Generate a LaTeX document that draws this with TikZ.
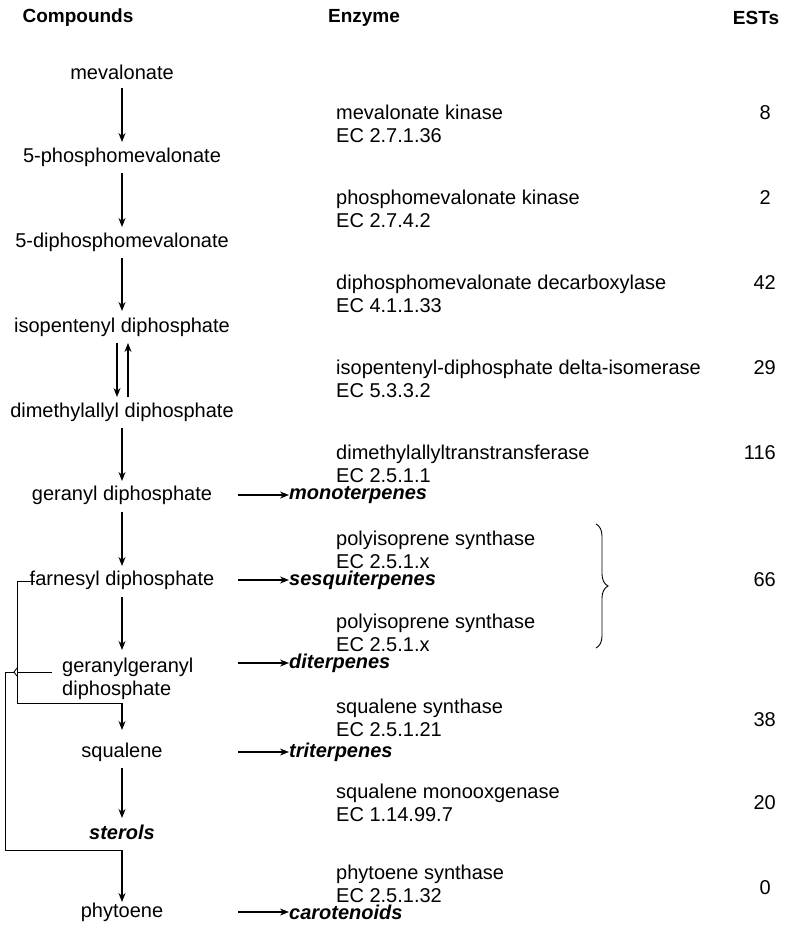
\documentclass[tikz,border=0pt]{standalone}
\usepackage{fontspec}
\setmainfont{Liberation Sans}
\usetikzlibrary{decorations.pathreplacing,arrows.meta}
\begin{document}
\begin{tikzpicture}[x=1pt,y=-1pt,
  txt/.style={inner sep=0pt,font=\fontsize{20}{23}\selectfont},
  hd/.style={txt,font=\fontsize{19}{23}\selectfont\bfseries},
  prod/.style={txt,anchor=west,font=\fontsize{20}{23}\selectfont\bfseries\itshape},
  enz/.style={txt,anchor=west,align=left,font=\fontsize{20}{23}\selectfont},
  est/.style={txt,anchor=east},
  arr/.style={-{Stealth[length=9pt,width=7pt]},line width=1.3pt},
  ln/.style={line width=0.9pt}]
\useasboundingbox (0,0) rectangle (785,932);
\node[hd] (h1) at (78,18) {Compounds};
\node[hd] (h2) at (364,18) {Enzyme};
\node[hd] (h3) at (756,18) {ESTs};
% compounds
\node[txt] (c1) at (122,72) {mevalonate};
\node[txt] (c2) at (122,157) {5-phosphomevalonate};
\node[txt] (c3) at (122,242) {5-diphosphomevalonate};
\node[txt] (c4) at (122,327) {isopentenyl diphosphate};
\node[txt] (c5) at (122,412) {dimethylallyl diphosphate};
\node[txt] (c6) at (122,495) {geranyl diphosphate};
\node[txt] (c7) at (122,580) {farnesyl diphosphate};
\node[txt,align=left,anchor=west] (c8) at (62,679) {geranylgeranyl\\diphosphate};
\node[txt] (c9) at (122,752) {squalene};
\node[prod,anchor=center] (c10) at (122,832) {sterols};
\node[txt] (c11) at (122,912) {phytoene};
% vertical arrows
\coordinate (a1) at (122,88); \coordinate (b1) at (122,142);
\coordinate (a2) at (122,173); \coordinate (b2) at (122,227);
\coordinate (a3) at (122,258); \coordinate (b3) at (122,311);
\coordinate (a5) at (122,428); \coordinate (b5) at (122,481);
\coordinate (a6) at (122,512); \coordinate (b6) at (122,566);
\coordinate (a7) at (122,597); \coordinate (b7) at (122,650);
\coordinate (a9) at (122,768); \coordinate (b9) at (122,818);
\foreach \i in {1,2,3,5,6,7,9} \draw[arr] (a\i) -- (b\i);
\draw[arr] (117,343) -- (117,397);
\draw[arr] (128,397) -- (128,343);
% bracket connectors
\coordinate (p1) at (35,581); \coordinate (p2) at (17,581);
\coordinate (p3) at (17,703); \coordinate (p4) at (122,703);
\coordinate (p5) at (122,730);
\draw[ln] (p1) -- (p2) -- (p3) -- (p4);
\draw[arr] (p4) -- (p5);
\coordinate (g1) at (52,672); \coordinate (g2) at (14,672);
\draw[ln] (g1) -- (17,672);
\draw[ln] (17,668) -- (14,672) -- (17,676);
\coordinate (q1) at (5,672); \coordinate (q2) at (5,850); \coordinate (q3) at (122,850);
\coordinate (q4) at (122,902);
\draw[ln] (g2) -- (q1) -- (q2) -- (q3);
\draw[arr] (q3) -- (q4);
% products
\foreach \y/\t/\n in {495/monoterpenes/m1,580/sesquiterpenes/m2,663/diterpenes/m3,752/triterpenes/m4,912/carotenoids/m5}{
  \node[prod] (\n) at (289,\y) {\t};
  \draw[arr] (238,\y) -- (\n.west);
}
% enzymes
\node[enz] (e1) at (336,124) {mevalonate kinase\\EC 2.7.1.36};
\node[enz] (e2) at (336,209) {phosphomevalonate kinase\\EC 2.7.4.2};
\node[enz] (e3) at (336,294) {diphosphomevalonate decarboxylase\\EC 4.1.1.33};
\node[enz] (e4) at (336,379) {isopentenyl-diphosphate delta-isomerase\\EC 5.3.3.2};
\node[enz] (e5) at (336,464) {dimethylallyltranstransferase\\EC 2.5.1.1};
\node[enz] (e6) at (336,550) {polyisoprene synthase\\EC 2.5.1.x};
\node[enz] (e7) at (336,633) {polyisoprene synthase\\EC 2.5.1.x};
\node[enz] (e8) at (336,718) {squalene synthase\\EC 2.5.1.21};
\node[enz] (e9) at (336,803) {squalene monooxgenase\\EC 1.14.99.7};
\node[enz] (e10) at (336,884) {phytoene synthase\\EC 2.5.1.32};
% ESTs
\node[est] (s1) at (771,113) {8};
\node[est] (s2) at (771,198) {2};
\node[est] (s3) at (776,283) {42};
\node[est] (s4) at (776,368) {29};
\node[est] (s5) at (776,453) {116};
\node[est] (s6) at (776,580) {66};
\node[est] (s7) at (776,720) {38};
\node[est] (s8) at (776,803) {20};
\node[est] (s9) at (771,888) {0};
\draw[ln,decorate,decoration={brace,amplitude=12pt}] (596,524) -- (596,648);
\end{tikzpicture}
\end{document}
